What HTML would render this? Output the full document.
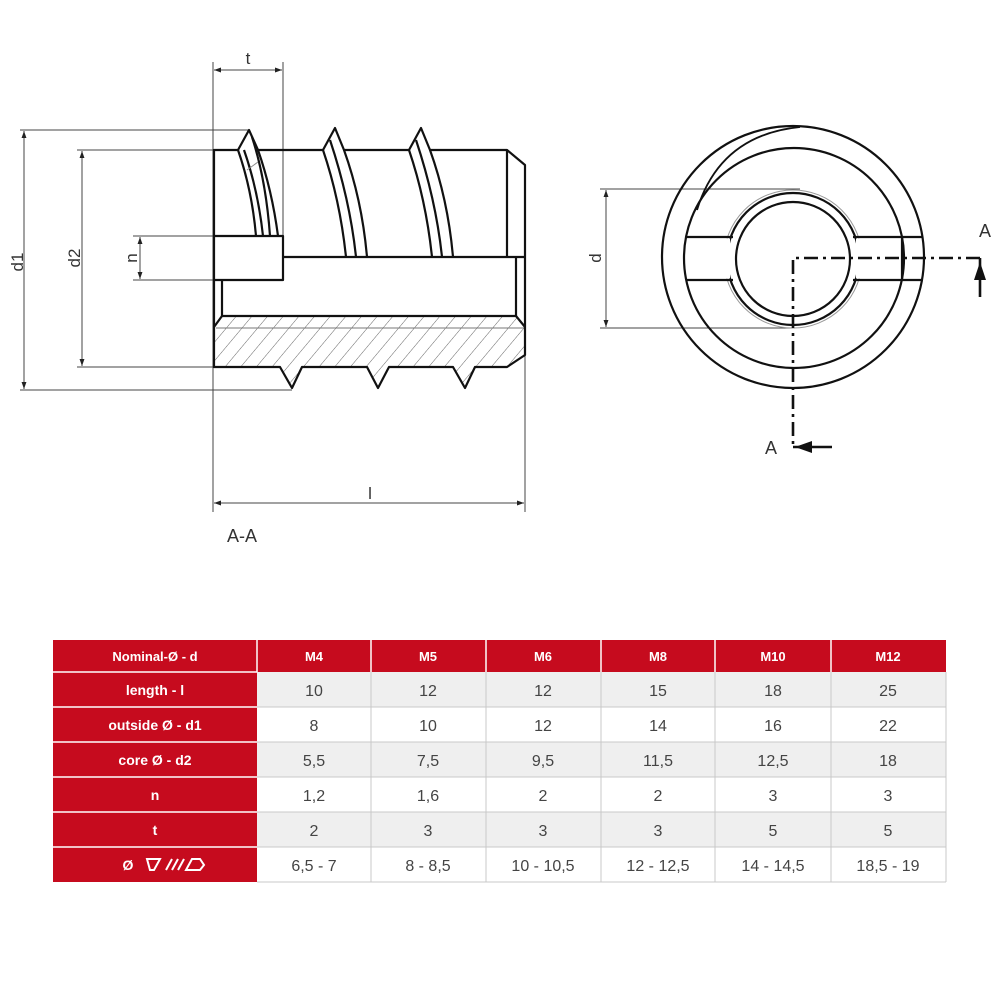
<!DOCTYPE html>
<html><head><meta charset="utf-8"><style>
html,body{margin:0;padding:0;background:#fff;}
svg{display:block}
</style></head><body>
<svg width="1005" height="1005" viewBox="0 0 1005 1005" xmlns="http://www.w3.org/2000/svg" font-family="Liberation Sans, Arial, sans-serif">
<defs>
<marker id="ar" viewBox="0 0 10 10" refX="10" refY="5" markerWidth="10" markerHeight="7" orient="auto-start-reverse" markerUnits="userSpaceOnUse"><path d="M0,1.5 L10,5 L0,8.5 z" fill="#222"/></marker>
<pattern id="hatch" width="12" height="12" patternUnits="userSpaceOnUse" patternTransform="rotate(40)"><line x1="0" y1="0" x2="0" y2="12" stroke="#666" stroke-width="1"/></pattern>
<clipPath id="hc"><path d="M222,316 L516,316 L525,327 L525,355 L507,367 L475,367 L465,388 L453,367 L389,367 L378,388 L367,367 L302,367 L292,388 L280,367 L214,367 L214,327 Z"/></clipPath>
</defs>
<rect width="1005" height="1005" fill="#fff"/>
<g stroke="#444" stroke-width="1" fill="none">
<line x1="213" y1="62" x2="213" y2="512"/>
<line x1="283" y1="62" x2="283" y2="236"/>
<line x1="525" y1="355" x2="525" y2="512"/>
<line x1="20" y1="130" x2="250" y2="130"/>
<line x1="20" y1="390" x2="292" y2="390"/>
<line x1="77" y1="150" x2="214" y2="150"/>
<line x1="77" y1="367" x2="214" y2="367"/>
<line x1="133" y1="236" x2="214" y2="236"/>
<line x1="133" y1="280" x2="214" y2="280"/>
<line x1="24" y1="131" x2="24" y2="389" marker-start="url(#ar)" marker-end="url(#ar)"/>
<line x1="82" y1="151" x2="82" y2="366" marker-start="url(#ar)" marker-end="url(#ar)"/>
<line x1="140" y1="237" x2="140" y2="279" marker-start="url(#ar)" marker-end="url(#ar)"/>
<line x1="214" y1="70" x2="282" y2="70" marker-start="url(#ar)" marker-end="url(#ar)"/>
<line x1="214" y1="503" x2="524" y2="503" marker-start="url(#ar)" marker-end="url(#ar)"/>
</g>
<g fill="#333" font-size="17">
<text x="248" y="64" text-anchor="middle">t</text>
<text x="370" y="499" text-anchor="middle">l</text>
<text x="242" y="542" text-anchor="middle" font-size="18">A-A</text>
<text transform="translate(23,262) rotate(-90)" text-anchor="middle">d1</text>
<text transform="translate(80,258) rotate(-90)" text-anchor="middle">d2</text>
<text transform="translate(137,258) rotate(-90)" text-anchor="middle">n</text>
</g>
<rect x="200" y="300" width="340" height="100" fill="url(#hatch)" clip-path="url(#hc)"/>
<line x1="216" y1="328" x2="524" y2="328" stroke="#777" stroke-width="1"/>
<g stroke="#111" stroke-width="2.2" fill="none" stroke-linejoin="round">
<path d="M214,236 L214,150 L238,150 L249,130 L258,150 L323,150 L335,128 L344,150 L409,150 L421,128 L430,150 L507,150 L525,165 L525,355 L507,367 L475,367 L465,388 L453,367 L389,367 L378,388 L367,367 L302,367 L292,388 L280,367 L214,367 L214,280"/>
<rect x="214" y="236" width="69" height="44"/>
<line x1="283" y1="257" x2="525" y2="257"/>
<line x1="507" y1="150" x2="507" y2="257"/>
<line x1="222" y1="280" x2="222" y2="316"/>
<line x1="516" y1="257" x2="516" y2="316"/>
<line x1="222" y1="316" x2="516" y2="316"/>
<line x1="214" y1="327" x2="222" y2="316"/>
<line x1="525" y1="327" x2="516" y2="316"/>
<path d="M238,150 Q252,190 256,236"/>
<path d="M244,150 Q258,190 263,236"/>
<path d="M252,137 Q266,180 270,236"/>
<path d="M258,150 Q272,190 278,236"/>
<path d="M323,150 Q340,200 346,257"/>
<path d="M330,140 Q350,200 356,257"/>
<path d="M344,150 Q362,200 367,257"/>
<path d="M409,150 Q426,200 432,257"/>
<path d="M416,140 Q436,200 442,257"/>
<path d="M430,150 Q448,200 453,257"/>
</g>
<line x1="247" y1="170" x2="258" y2="162" stroke="#888" stroke-width="1"/>
<g stroke="#444" stroke-width="1" fill="none">
<line x1="600" y1="189" x2="800" y2="189"/>
<line x1="600" y1="328" x2="795" y2="328"/>
<line x1="606" y1="190" x2="606" y2="327" marker-start="url(#ar)" marker-end="url(#ar)"/>
<circle cx="793" cy="259" r="69" stroke="#999"/>
</g>
<text transform="translate(601,258) rotate(-90)" text-anchor="middle" font-size="17" fill="#333">d</text>
<g stroke="#111" stroke-width="2.2" fill="none">
<circle cx="793" cy="257" r="131"/>
<circle cx="794" cy="258" r="110"/>
<path d="M697,210 Q720,135 800,127" stroke-width="1.8"/>
<circle cx="793" cy="259" r="66"/>
<circle cx="793" cy="259" r="57"/>
</g>
<rect x="688" y="238.5" width="42" height="40" fill="#fff"/>
<rect x="856" y="238.5" width="45" height="40" fill="#fff"/>
<g stroke="#111" stroke-width="2.2" fill="none">
<path d="M687,237 L733,237 M687,280 L733,280 M853,237 L923,237 M853,280 L923,280"/>
<line x1="902" y1="237" x2="902" y2="280"/>
</g>
<g stroke="#111" stroke-width="2.6" fill="none" stroke-dasharray="14,5,3,5">
<polyline points="980,258 793,258 793,447"/>
</g>
<g stroke="#111" stroke-width="2.6" fill="none">
<line x1="793" y1="447" x2="832" y2="447"/>
<line x1="980" y1="258" x2="980" y2="297"/>
</g>
<path d="M795,447 L812,441 L812,453 Z" fill="#111"/>
<path d="M980,262 L974,280 L986,280 Z" fill="#111"/>
<text x="985" y="237" text-anchor="middle" font-size="18" fill="#333">A</text>
<text x="771" y="454" text-anchor="middle" font-size="18" fill="#333">A</text>
<g>
<rect x="53" y="640" width="893" height="242" fill="#fff"/>
<rect x="53" y="640" width="893" height="32" fill="#c60b1e"/>
<rect x="53" y="640" width="204" height="242" fill="#c60b1e"/>
<rect x="257" y="672" width="689" height="35" fill="#efefef"/>
<rect x="257" y="742" width="689" height="35" fill="#efefef"/>
<rect x="257" y="812" width="689" height="35" fill="#efefef"/>
<g stroke="#fff" stroke-width="1.5">
<line x1="53" y1="672" x2="257" y2="672"/><line x1="53" y1="707" x2="257" y2="707"/><line x1="53" y1="742" x2="257" y2="742"/><line x1="53" y1="777" x2="257" y2="777"/><line x1="53" y1="812" x2="257" y2="812"/><line x1="53" y1="847" x2="257" y2="847"/>
<line x1="257" y1="640" x2="257" y2="672"/><line x1="371" y1="640" x2="371" y2="672"/><line x1="486" y1="640" x2="486" y2="672"/><line x1="601" y1="640" x2="601" y2="672"/><line x1="715" y1="640" x2="715" y2="672"/><line x1="831" y1="640" x2="831" y2="672"/>
</g>
<g stroke="#c8c8c8" stroke-width="1">
<line x1="257" y1="707" x2="946" y2="707"/><line x1="257" y1="742" x2="946" y2="742"/><line x1="257" y1="777" x2="946" y2="777"/><line x1="257" y1="812" x2="946" y2="812"/><line x1="257" y1="847" x2="946" y2="847"/><line x1="257" y1="882" x2="946" y2="882"/>
<line x1="371" y1="672" x2="371" y2="882"/><line x1="486" y1="672" x2="486" y2="882"/><line x1="601" y1="672" x2="601" y2="882"/><line x1="715" y1="672" x2="715" y2="882"/><line x1="831" y1="672" x2="831" y2="882"/><line x1="946" y1="672" x2="946" y2="882"/>
</g>
<g fill="#fff" font-weight="bold" font-size="14" text-anchor="middle">
<text x="155" y="661" font-size="13">Nominal-Ø - d</text>
<text x="314" y="661" font-size="13">M4</text><text x="428" y="661" font-size="13">M5</text><text x="543" y="661" font-size="13">M6</text><text x="658" y="661" font-size="13">M8</text><text x="773" y="661" font-size="13">M10</text><text x="888" y="661" font-size="13">M12</text>
<text x="155" y="695">length - l</text>
<text x="155" y="730">outside Ø - d1</text>
<text x="155" y="765">core Ø - d2</text>
<text x="155" y="800">n</text>
<text x="155" y="835">t</text>
<text x="128" y="870">Ø</text>
</g>
<g stroke="#fff" stroke-width="2" fill="none">
<path d="M147,859 L160,859 L154,870 L150,870 Z"/>
<line x1="166" y1="870" x2="172" y2="859"/><line x1="172" y1="870" x2="178" y2="859"/><line x1="178" y1="870" x2="184" y2="859"/>
<path d="M186,870 L192,859 L200,859 L204,865 L200,870 Z"/>
</g>
<g fill="#444" font-size="16" text-anchor="middle">
<text x="314" y="696">10</text><text x="428" y="696">12</text><text x="543" y="696">12</text><text x="658" y="696">15</text><text x="773" y="696">18</text><text x="888" y="696">25</text>
<text x="314" y="731">8</text><text x="428" y="731">10</text><text x="543" y="731">12</text><text x="658" y="731">14</text><text x="773" y="731">16</text><text x="888" y="731">22</text>
<text x="314" y="766">5,5</text><text x="428" y="766">7,5</text><text x="543" y="766">9,5</text><text x="658" y="766">11,5</text><text x="773" y="766">12,5</text><text x="888" y="766">18</text>
<text x="314" y="801">1,2</text><text x="428" y="801">1,6</text><text x="543" y="801">2</text><text x="658" y="801">2</text><text x="773" y="801">3</text><text x="888" y="801">3</text>
<text x="314" y="836">2</text><text x="428" y="836">3</text><text x="543" y="836">3</text><text x="658" y="836">3</text><text x="773" y="836">5</text><text x="888" y="836">5</text>
<text x="314" y="871">6,5 - 7</text><text x="428" y="871">8 - 8,5</text><text x="543" y="871">10 - 10,5</text><text x="658" y="871">12 - 12,5</text><text x="773" y="871">14 - 14,5</text><text x="888" y="871">18,5 - 19</text>
</g>
</g>
</svg>
</body></html>
